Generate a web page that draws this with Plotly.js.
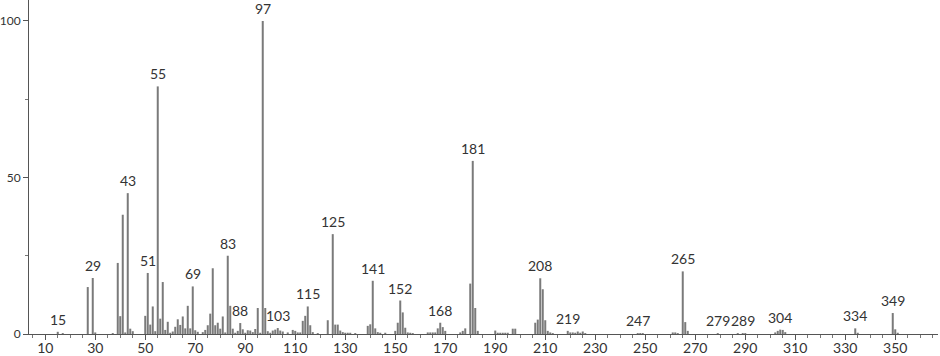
<!DOCTYPE html>
<html>
<head>
<meta charset="utf-8">
<script src="https://cdn.plot.ly/plotly-3.0.1.min.js"></script>
<style>html,body{margin:0;padding:0;background:#fff;}#chart{width:940px;height:356px;}</style>
</head>
<body>
<div id="chart"></div>
<script>
// m/z values of the peaks
const mz = [
  15, 17, 27, 29, 30, 37, 39, 40, 41, 42, 43, 44, 45,
  50, 51, 52, 53, 54, 55, 56, 57, 58, 59, 60, 61, 62, 63, 64, 65, 66, 67, 68, 69, 70, 71,
  73, 74, 75, 76, 77, 78, 79, 80, 81, 82, 83, 84, 85, 86, 87, 88, 89, 90, 91, 92, 93, 94, 95, 96, 97, 98, 99, 100,
  101, 102, 103, 104, 105, 107, 109, 110, 111, 112, 113, 114, 115, 116, 117, 119,
  123, 125, 126, 127, 128, 129, 130, 131, 132, 134, 139, 140, 141, 142, 143, 144, 146,
  150, 151, 152, 153, 154, 155, 156, 157, 163, 164, 165, 166, 167, 168, 169, 170,
  176, 177, 178, 180, 181, 182, 183, 190, 191, 192, 193, 194, 195, 197, 198,
  206, 207, 208, 209, 210, 211, 212, 213, 219, 220, 221, 222, 223, 224, 225, 226,
  247, 248, 249, 261, 262, 263, 265, 266, 267, 279, 287, 289, 290,
  302, 303, 304, 305, 306, 334, 335, 349, 350, 351
];
// relative intensities (%)
const intensity = [
  0.7, 0.3, 15.0, 17.9, 0.5, 0.3, 22.7, 5.7, 38.1, 0.5, 45.0, 1.7, 0.9,
  5.8, 19.5, 3.0, 8.8, 0.9, 79.1, 4.9, 16.6, 1.3, 3.9, 0.4, 0.8, 2.3, 4.7, 2.9, 5.6, 1.8, 9.0, 1.8, 15.2, 1.2, 0.7,
  0.6, 1.3, 2.8, 6.5, 21.0, 2.8, 3.6, 1.7, 5.6, 0.5, 25.0, 9.0, 1.7, 0.4, 1.0, 3.5, 1.5, 0.4, 1.2, 1.1, 0.6, 1.6, 8.3, 0.4, 100, 8.3, 0.9, 0.4,
  1.1, 1.4, 1.9, 1.1, 0.8, 0.5, 1.3, 1.0, 0.5, 0.5, 4.2, 5.8, 8.8, 2.8, 0.6, 0.3,
  4.4, 31.9, 3.0, 3.0, 1.1, 0.6, 0.4, 0.4, 0.4, 0.3, 2.6, 3.1, 17.0, 1.8, 0.6, 0.4, 0.4,
  1.0, 3.6, 10.7, 6.9, 2.0, 0.5, 0.4, 0.3, 0.5, 0.5, 0.5, 0.5, 1.8, 3.6, 2.2, 1.0,
  0.5, 1.0, 1.8, 16.1, 55.3, 8.3, 1.0, 1.1, 0.4, 0.4, 0.4, 0.4, 0.4, 1.7, 1.7,
  3.6, 4.6, 17.8, 14.3, 4.4, 1.0, 0.5, 0.3, 1.0, 0.5, 0.5, 0.4, 0.8, 0.4, 0.8, 0.3,
  0.3, 0.3, 0.3, 0.5, 0.5, 0.3, 20.0, 3.8, 1.0, 0.3, 0.3, 0.3, 0.3,
  0.5, 1.0, 1.4, 1.3, 0.6, 1.8, 0.4, 6.7, 1.5, 0.4
];
// peaks that carry an m/z label
const labelled = [15, 29, 43, 51, 55, 69, 83, 88, 97, 103, 115, 125, 141, 152, 168, 181, 208, 219, 247, 265, 279, 289, 304, 334, 349];
// axis ticks
const xTickStart = 10, xTickStep = 20, xMinorStep = 5;
const yTicks = [0, 50, 100];
const yMinorTicks = [25, 75];

const fontFam = 'Lato, "Open Sans", "DejaVu Sans", sans-serif';
const xRange = [3.5, 367.1];

const annotations = labelled.map(function (m) {
  const i = mz.indexOf(m);
  return {
    x: m, y: intensity[i], xref: 'x', yref: 'y',
    text: String(m), showarrow: false,
    xanchor: 'center', yanchor: 'bottom', yshift: 2,
    font: {family: fontFam, size: 14, color: '#333'}
  };
});

const bars = {
  type: 'bar',
  x: mz,
  y: intensity,
  width: 0.8,
  marker: {color: '#7a7a7a', line: {width: 0}},
  hoverinfo: 'x+y'
};
// invisible copy that carries the tick-only overlay axis
const tickCarrier = {
  type: 'scatter', mode: 'markers',
  x: mz, y: intensity, xaxis: 'x2', yaxis: 'y',
  marker: {opacity: 0, size: 1},
  hoverinfo: 'skip', showlegend: false
};

const layout = {
  width: 940, height: 356,
  margin: {l: 29, r: 2, t: 0, b: 22, pad: 0},
  paper_bgcolor: '#fff', plot_bgcolor: '#fff',
  showlegend: false,
  font: {family: fontFam, size: 14, color: '#333'},
  xaxis: {
    range: xRange,
    showgrid: false, zeroline: false,
    showline: true, linecolor: '#555', linewidth: 1,
    tick0: xTickStart, dtick: xTickStep,
    ticks: '',
    tickfont: {family: fontFam, size: 14, color: '#333'},
    ticklabelstandoff: 1
  },
  xaxis2: {
    range: xRange,
    overlaying: 'x', anchor: 'y', side: 'bottom',
    showgrid: false, zeroline: false, showline: false,
    showticklabels: false,
    tick0: xTickStart, dtick: xTickStep,
    ticks: 'outside', ticklen: 5, tickcolor: '#555', tickwidth: 1,
    minor: {dtick: xMinorStep, tick0: xTickStart, ticks: 'outside', ticklen: 3, tickcolor: '#777', tickwidth: 1}
  },
  yaxis: {
    range: [0, 106.7],
    showgrid: false, zeroline: false,
    showline: true, linecolor: '#555', linewidth: 1,
    tickvals: yTicks,
    ticks: 'outside', ticklen: 5, tickcolor: '#555', tickwidth: 1,
    minor: {tickvals: yMinorTicks, ticks: 'outside', ticklen: 3, tickcolor: '#777', tickwidth: 1},
    tickfont: {family: fontFam, size: 12, color: '#333'},
    ticklabelstandoff: 0
  },
  annotations: annotations
};

Plotly.newPlot('chart', [bars, tickCarrier], layout, {displayModeBar: false, staticPlot: true});
</script>
</body>
</html>
